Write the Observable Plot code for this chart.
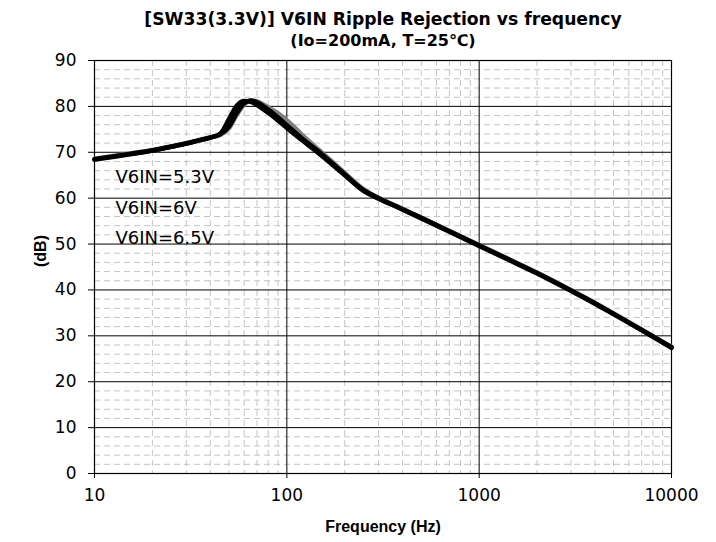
<!DOCTYPE html>
<html><head><meta charset="utf-8">
<script src="https://cdn.jsdelivr.net/npm/d3@7"></script>
<script src="https://cdn.jsdelivr.net/npm/@observablehq/plot@0.6"></script>
<style>body{margin:0;background:#fff} svg{display:block}</style>
</head><body><div id="chart"></div>
<script>
// ---- data ----
const titleLines = ["[SW33(3.3V)] V6IN Ripple Rejection vs frequency", "(Io=200mA, T=25\u2103)"];
const xLabel = "Frequency (Hz)";
const yLabel = "(dB)";
const seriesNames = ["V6IN=5.3V", "V6IN=6V", "V6IN=6.5V"];
const freq = [10, 15, 20, 25, 30, 35, 40, 45, 50, 55, 60, 65, 70, 80, 90, 100, 120, 150, 200, 250, 300, 400, 500, 700, 1000, 1500, 2000, 3000, 4000, 5000, 7000, 10000];
const v53 = [68.4, 69.5, 70.4, 71.2, 71.9, 72.6, 73.2, 74.0, 77.2, 80.2, 81.2, 81.0, 80.3, 78.6, 76.9, 75.3, 72.6, 69.4, 65.0, 61.6, 59.9, 57.5, 55.6, 52.7, 49.6, 46.1, 43.6, 39.8, 37.0, 34.7, 31.2, 27.4];
const v60 = [68.5, 69.6, 70.4, 71.2, 71.9, 72.6, 73.2, 73.9, 75.6, 78.6, 80.7, 81.3, 80.9, 79.3, 77.6, 75.9, 73.0, 69.8, 65.2, 61.8, 60.0, 57.6, 55.7, 52.8, 49.7, 46.2, 43.7, 39.9, 37.1, 34.8, 31.3, 27.5];
const v65 = [68.6, 69.7, 70.5, 71.3, 72.0, 72.7, 73.3, 73.8, 75.2, 78.2, 80.4, 81.3, 81.1, 79.8, 78.5, 77.0, 73.8, 70.2, 65.5, 62.0, 60.1, 57.7, 55.8, 52.9, 49.8, 46.3, 43.8, 40.0, 37.2, 34.9, 31.4, 27.6];
const xTicks = [10, 100, 1000, 10000];
const yTicks = [0, 10, 20, 30, 40, 50, 60, 70, 80, 90];
const xMinor = [20, 30, 40, 50, 60, 70, 80, 90, 200, 300, 400, 500, 600, 700, 800, 900, 2000, 3000, 4000, 5000, 6000, 7000, 8000, 9000];
const yMinor = [2, 4, 6, 8, 12, 14, 16, 18, 22, 24, 26, 28, 32, 34, 36, 38, 42, 44, 46, 48, 52, 54, 56, 58, 62, 64, 66, 68, 72, 74, 76, 78, 82, 84, 86, 88];

const rows = (vals, name) => freq.map((f, i) => ({f, db: vals[i], s: name}));
const dGray = rows(v65, seriesNames[2]);
const dA = rows(v53, seriesNames[0]);
const dB = rows(v60, seriesNames[1]);

const font = "DejaVu Sans";
const labelFont = "Liberation Sans";
const minorStyle = {stroke: "#c4c4c4", strokeDasharray: "6,4", strokeWidth: 1};

const chart = Plot.plot({
  width: 716,
  height: 542,
  marginLeft: 94,
  marginRight: 45,
  marginTop: 60,
  marginBottom: 69,
  style: {fontFamily: font, fontSize: "17px", color: "#000", background: "#fff"},
  x: {type: "log", domain: [10, 10000], ticks: xTicks, tickFormat: d => String(d), tickSize: 5, tickPadding: 10, label: null},
  y: {domain: [0, 90], ticks: yTicks, tickSize: 6, tickPadding: 12, label: null},
  marks: [
    Plot.ruleX(xMinor, minorStyle),
    Plot.ruleY(yMinor, minorStyle),
    Plot.ruleX(xTicks, {stroke: "#000", strokeWidth: 1}),
    Plot.ruleY(yTicks, {stroke: "#000", strokeWidth: 1}),
    Plot.frame({stroke: "#000", strokeWidth: 1.2}),
    Plot.line(dGray, {x: "f", y: "db", stroke: "#808080", strokeWidth: 4.5, curve: "monotone-x"}),
    Plot.line(dB, {x: "f", y: "db", stroke: "#000", strokeWidth: 4.5, curve: "monotone-x"}),
    Plot.line(dA, {x: "f", y: "db", stroke: "#000", strokeWidth: 4.5, curve: "monotone-x"}),
    Plot.text([seriesNames.join("\n")], {frameAnchor: "top-left", dx: 21, dy: 101, lineHeight: 1.7, textAnchor: "start", fontSize: 18, fill: "#000"}),
    Plot.text([titleLines[0]], {frameAnchor: "top", dy: -48, fontWeight: "bold", fontSize: 17.2, fill: "#000"}),
    Plot.text([titleLines[1]], {frameAnchor: "top", dy: -26, fontWeight: "bold", fontSize: 16, fill: "#000"}),
    Plot.text([yLabel], {frameAnchor: "left", dx: -54, rotate: -90, fontWeight: "bold", fontSize: 16, fontFamily: labelFont, fill: "#000"}),
    Plot.text([xLabel], {frameAnchor: "bottom", dy: 58, fontWeight: "bold", fontSize: 16, fontFamily: labelFont, fill: "#000"})
  ]
});
document.getElementById("chart").appendChild(chart);
</script>
</body></html>
